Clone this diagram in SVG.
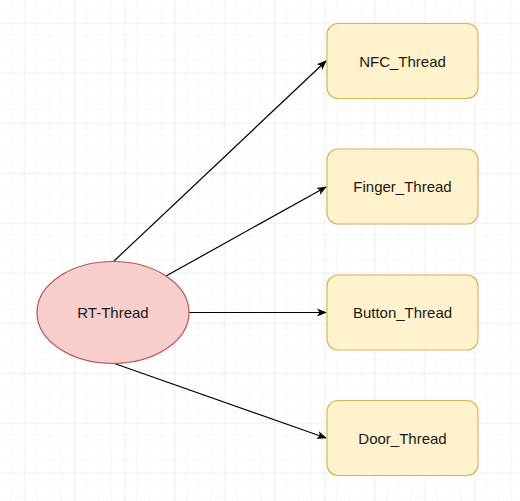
<svg xmlns="http://www.w3.org/2000/svg" width="520" height="501" viewBox="0 0 520 501">
<defs>
<pattern id="minor" width="12.5" height="12.5" patternUnits="userSpaceOnUse" x="-0.5" y="-2.2">
<path d="M12.5 0V12.5M0 12.5H12.5" fill="none" stroke="#f1f1f1" stroke-width="1"/>
</pattern>
<pattern id="major" width="50" height="50" patternUnits="userSpaceOnUse" x="24.5" y="23.3">
<path d="M0 0V50M0 0H50" fill="none" stroke="#e6e6e6" stroke-width="1"/>
</pattern>
<marker id="arr" viewBox="0 0 10 10" refX="9" refY="5" markerWidth="10" markerHeight="10" markerUnits="userSpaceOnUse" orient="auto">
<path d="M0 1L10 5L0 9L2.5 5Z" fill="#000"/>
</marker>
</defs>
<style>
.box{fill:#fff2cc;stroke:#d6b656;stroke-width:1.2}
.ell{fill:#f8cecc;stroke:#b85450;stroke-width:1.2}
.lbl{font-family:"Liberation Sans",Arial,sans-serif;font-size:15px;fill:#1a1a1a;text-anchor:middle;dominant-baseline:central}
.edge{stroke:#000;stroke-width:1.2;fill:none;marker-end:url(#arr)}
</style>
<rect width="520" height="501" fill="#fff"/>
<rect width="520" height="501" fill="url(#minor)"/>
<rect width="520" height="501" fill="url(#major)"/>
<g id="connectors">
<path class="edge" d="M113 262L326 61"/>
<path class="edge" d="M166 276L326 187"/>
<path class="edge" d="M189 312.5L326 312.5"/>
<path class="edge" d="M113 363L326 438"/>
</g>
<g id="rt-thread">
<ellipse class="ell" cx="113" cy="312.5" rx="76" ry="51"/>
<text class="lbl" x="113" y="312.5">RT-Thread</text>
</g>
<g id="nfc-thread">
<rect class="box" x="327" y="23.5" width="151" height="75" rx="11"/>
<text class="lbl" x="402.5" y="61">NFC_Thread</text>
</g>
<g id="finger-thread">
<rect class="box" x="327" y="149" width="151" height="75" rx="11"/>
<text class="lbl" x="402.5" y="186.5">Finger_Thread</text>
</g>
<g id="button-thread">
<rect class="box" x="327" y="275" width="151" height="75" rx="11"/>
<text class="lbl" x="402.5" y="312.5">Button_Thread</text>
</g>
<g id="door-thread">
<rect class="box" x="327" y="400.5" width="151" height="75" rx="11"/>
<text class="lbl" x="402.5" y="438">Door_Thread</text>
</g>
</svg>
